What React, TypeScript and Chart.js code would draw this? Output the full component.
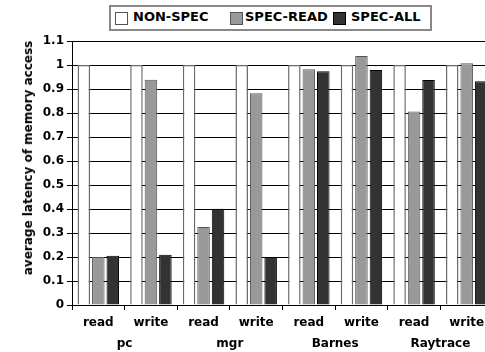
import React, { useEffect, useRef } from 'react';
import { Chart, registerables } from 'chart.js';

Chart.register(...registerables);

const categories = ['read', 'write', 'read', 'write', 'read', 'write', 'read', 'write'];
const groups = ['pc', 'mgr', 'Barnes', 'Raytrace'];
const seriesNames = ['NON-SPEC', 'SPEC-READ', 'SPEC-ALL'];
const nonSpec = [1, 1, 1, 1, 1, 1, 1, 1];
const specRead = [0.2, 0.939, 0.325, 0.882, 0.982, 1.037, 0.806, 1.007];
const specAll = [0.205, 0.209, 0.401, 0.2, 0.974, 0.979, 0.938, 0.932];
const yMin = 0;
const yMax = 1.1;
const yStep = 0.1;
const yTitle = 'average latency of memory access';

const FONT = "'DejaVu Sans', Verdana, sans-serif";
const fills = ['#ffffff', '#999999', '#333333'];
const borders = ['#6a6a6a', '#555555', '#000000'];
const borderWidths = [1.5, 1, 1];

export default function App() {
  const ref = useRef<HTMLCanvasElement | null>(null);

  useEffect(() => {
    if (!ref.current) return;
    const values = [nonSpec, specRead, specAll];
    const chart = new Chart(ref.current, {
      type: 'bar',
      data: {
        labels: categories,
        datasets: seriesNames.map((name, i) => ({
          label: name,
          data: values[i],
          backgroundColor: fills[i],
          borderColor: borders[i],
          borderWidth: borderWidths[i],
          categoryPercentage: 0.825,
          barPercentage: 0.865,
          xAxisID: 'x',
          yAxisID: 'y',
        })),
      },
      options: {
        responsive: false,
        animation: false,
        events: [],
        layout: { padding: { top: 41, left: 0, right: 0, bottom: 0 } },
        plugins: { legend: { display: false }, tooltip: { enabled: false } },
        scales: {
          y: {
            min: yMin,
            max: yMax,
            ticks: {
              stepSize: yStep,
              color: '#000',
              font: { family: FONT, size: 12, weight: 'bold' },
              padding: 3,
              callback: (v: any) => String(Number(Number(v).toFixed(1))),
            },
            grid: { color: '#000', lineWidth: 1, tickLength: 5, drawTicks: true },
            border: { color: '#000', width: 1 },
            afterFit: (s: any) => { s.width = 72; },
          },
          x: {
            type: 'category',
            position: 'bottom',
            offset: true,
            ticks: {
              color: '#000',
              font: { family: FONT, size: 12, weight: 'bold' },
              padding: 6,
              maxRotation: 0,
              autoSkip: false,
            },
            grid: { offset: true, drawOnChartArea: false, drawTicks: true, tickLength: 5, color: '#000' },
            border: { color: '#000', width: 1 },
            afterFit: (s: any) => { s.height = 24; },
          },
          x2: {
            type: 'category',
            position: 'bottom',
            labels: groups,
            offset: true,
            ticks: {
              color: '#000',
              font: { family: FONT, size: 12, weight: 'bold' },
              padding: 8,
              maxRotation: 0,
              autoSkip: false,
            },
            grid: { display: false, drawTicks: false },
            border: { display: false },
            afterFit: (s: any) => { s.height = 23; },
          },
        },
      } as any,
    });
    return () => chart.destroy();
  }, []);

  const legendItems = [
    { left: 115, textLeft: 133 },
    { left: 230, textLeft: 245 },
    { left: 333, textLeft: 351 },
  ];

  return (
    <div style={{ position: 'fixed', left: 0, top: 0, width: 485, height: 352, overflow: 'hidden', background: '#fff' }}>
      <canvas ref={ref} width={493} height={352} style={{ position: 'absolute', left: 0, top: 0, width: 493, height: 352 }} />
      <div style={{ position: 'absolute', left: 109, top: 5, width: 319, height: 22, border: '2px solid #888', background: '#fff' }} />
      {seriesNames.map((name, i) => (
        <React.Fragment key={name}>
          <div style={{ position: 'absolute', left: legendItems[i].left, top: 12, width: 11, height: 11, background: fills[i], border: '1px solid ' + (i === 0 ? '#555' : borders[i]) }} />
          <div style={{ position: 'absolute', left: legendItems[i].textLeft, top: 9, font: `bold 13px ${FONT}`, lineHeight: '16px', whiteSpace: 'nowrap', color: '#000' }}>{name}</div>
        </React.Fragment>
      ))}
      <div style={{ position: 'absolute', left: 28, top: 158, transform: 'translate(-50%, -50%) rotate(-90deg)', font: `bold 12px ${FONT}`, whiteSpace: 'nowrap', color: '#000', lineHeight: '14px' }}>{yTitle}</div>
    </div>
  );
}
